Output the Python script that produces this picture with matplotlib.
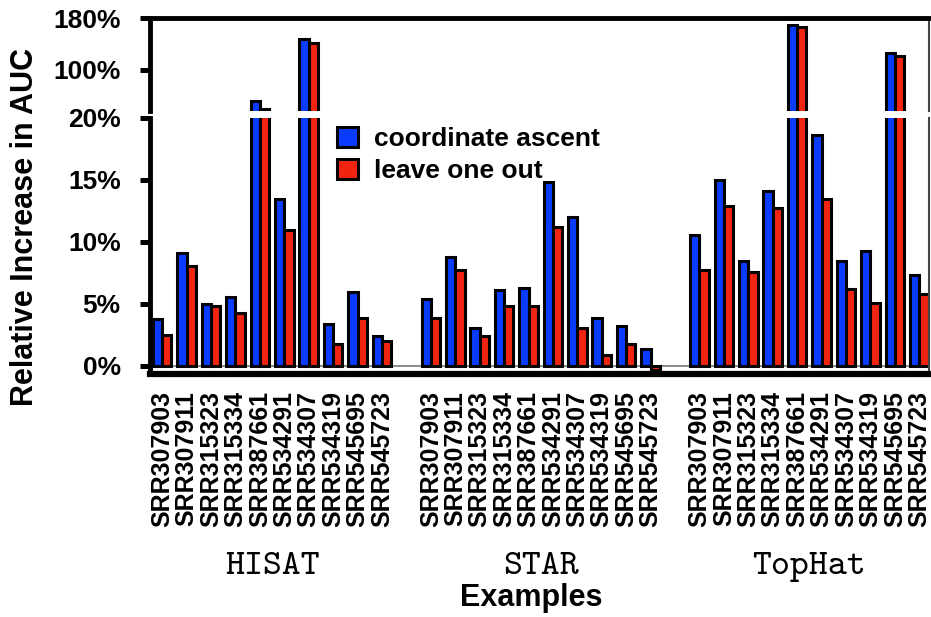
import matplotlib
matplotlib.use("Agg")
import matplotlib.pyplot as plt
import numpy as np

plt.rcParams['font.family'] = ['Liberation Sans', 'DejaVu Sans']
plt.rcParams['font.weight'] = 'bold'

# data (relative increase in AUC, %)
groups = ['HISAT', 'STAR', 'TopHat']
samples = ['SRR307903', 'SRR307911', 'SRR315323', 'SRR315334', 'SRR387661',
           'SRR534291', 'SRR534307', 'SRR534319', 'SRR545695', 'SRR545723']
coord_ascent = [3.8, 9.1, 5.0, 5.6, 51.0, 13.5, 148.0, 3.4, 6.0, 2.4,
                5.4, 8.8, 3.1, 6.1, 6.3, 14.8, 12.0, 3.9, 3.2, 1.4,
                10.6, 15.0, 8.5, 14.1, 169.0, 18.6, 8.5, 9.3, 125.6, 7.3]
leave_one_out = [2.5, 8.1, 4.8, 4.3, 39.0, 11.0, 141.0, 1.8, 3.9, 2.0,
                 3.9, 7.7, 2.4, 4.8, 4.8, 11.2, 3.1, 0.9, 1.8, -0.3,
                 7.7, 12.9, 7.6, 12.7, 166.0, 13.5, 6.2, 5.1, 120.4, 5.8]

blue = '#0a3cff'
red = '#f02410'

# positions: 10 per group, one empty slot between groups
x = np.concatenate([np.arange(10) + g * 11 for g in range(len(groups))])
w = 0.38

fig = plt.figure(figsize=(9.31, 6.17), dpi=100)
W, H = 931, 617
ax_top = fig.add_axes([150 / W, 1 - 111 / H, 779 / W, 93 / H])
ax_bot = fig.add_axes([150 / W, 1 - 374 / H, 779 / W, 256 / H])

for ax in (ax_top, ax_bot):
    ax.bar(x - w / 2, coord_ascent, w, color=blue, edgecolor='black',
           linewidth=2.2, label='coordinate ascent')
    ax.bar(x + w / 2, leave_one_out, w, color=red, edgecolor='black',
           linewidth=2.2, label='leave one out')
    ax.set_xlim(-0.5, 31.4)
    ax.spines['left'].set_linewidth(3.5)
    ax.spines['right'].set_linewidth(1.5)
    ax.spines['right'].set_color('#444444')
    ax.tick_params(axis='y', direction='out', length=7, width=3.6, pad=14,
                   labelsize=19)

ax_top.set_ylim(36, 180)
ax_top.set_yticks([100, 180])
ax_top.set_yticklabels(['100%', '180%'])
ax_top.spines['bottom'].set_visible(False)
ax_top.spines['top'].set_linewidth(3.5)
ax_top.set_xticks([])

ax_bot.set_ylim(-0.65, 20)
ax_bot.set_yticks([0, 5, 10, 15, 20])
ax_bot.set_yticklabels(['0%', '5%', '10%', '15%', '20%'])
ax_bot.spines['top'].set_visible(False)
ax_bot.spines['bottom'].set_linewidth(4.5)
ax_bot.axhline(0, color='#777777', linewidth=1.2, zorder=0.5)
ax_bot.set_xticks(x)
ax_bot.set_xticklabels(samples * len(groups), rotation=90, fontsize=18)
ax_bot.tick_params(axis='x', length=0, pad=12)

for g, name in enumerate(groups):
    ax_bot.text(g * 11 + 4.5, -0.755, name, transform=ax_bot.get_xaxis_transform(),
                ha='center', va='center', fontsize=26, fontweight='normal',
                family='cmtt10')

fig.text(531 / W, 1 - 598 / H, 'Examples', ha='center', va='center',
         fontsize=22, fontweight='bold')
fig.text(25 / W, 1 - 227 / H, 'Relative Increase in AUC', ha='center',
         va='center', rotation=90, fontsize=22, fontweight='bold')

ax_bot.legend(loc='upper left', bbox_to_anchor=(337 / W, 1 - 127 / H),
              bbox_transform=fig.transFigure, frameon=False, fontsize=19,
              handlelength=0.8, handleheight=0.8, handletextpad=0.6,
              labelspacing=0.3, borderpad=0, borderaxespad=0)

fig.savefig('out.png', dpi=100)
